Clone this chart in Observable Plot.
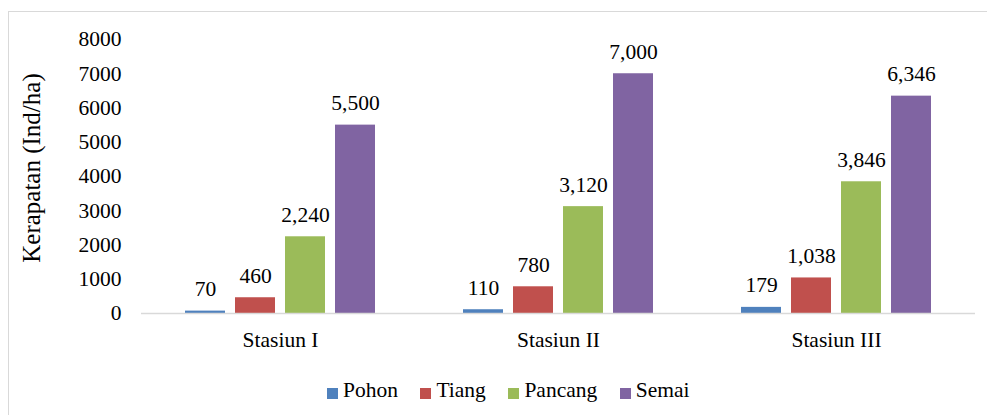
<!DOCTYPE html>
<html>
<head>
<meta charset="utf-8">
<script src="https://cdn.jsdelivr.net/npm/d3@7"></script>
<script src="https://cdn.jsdelivr.net/npm/@observablehq/plot@0.6"></script>
<style>
  html, body { margin: 0; padding: 0; background: #fff; overflow: hidden; width: 987px; height: 415px; }
  #frame { position: absolute; left: 8px; top: 11px; width: 1100px; height: 600px; border: 1px solid #d9d9d9; box-sizing: border-box; }
  #chart { position: absolute; left: 0; top: 0; }
  #chart svg, #chart svg text { font-family: "Liberation Serif", "Times New Roman", Times, "DejaVu Serif", serif !important; }
  #ytitle { position: absolute; left: 31px; top: 168px; transform: translate(-50%, -50%) rotate(-90deg); white-space: nowrap; font-family: "Liberation Serif", "Times New Roman", Times, "DejaVu Serif", serif; font-size: 25px; color: #000; line-height: 1; }
  #legend { position: absolute; left: 327px; top: 378px; display: flex; align-items: center; font-family: "Liberation Serif", "Times New Roman", Times, "DejaVu Serif", serif; font-size: 21.5px; color: #000; }
  .item { display: flex; align-items: center; margin-right: 22.5px; }
  .sw { width: 11px; height: 11px; margin-right: 5px; margin-top: 5px; }
</style>
</head>
<body>
<div id="frame"></div>
<div id="chart"></div>
<div id="ytitle"></div>
<div id="legend"></div>
<script>
const stations = ["Stasiun I", "Stasiun II", "Stasiun III"];
const series = ["Pohon", "Tiang", "Pancang", "Semai"];
const colors = ["#4f81bd", "#c0504d", "#9bbb59", "#8064a2"];
const pohon = [70, 110, 179];
const tiang = [460, 780, 1038];
const pancang = [2240, 3120, 3846];
const semai = [5500, 7000, 6346];
const yTicks = [0, 1000, 2000, 3000, 4000, 5000, 6000, 7000, 8000];
const yTitle = "Kerapatan (Ind/ha)";

const valuesBySeries = [pohon, tiang, pancang, semai];
const data = [];
stations.forEach((st, i) => {
  series.forEach((s, j) => data.push({station: st, series: s, value: valuesBySeries[j][i]}));
});

const fmt = d3.format(",");

const chart = Plot.plot({
  width: 987,
  height: 360,
  marginLeft: 140,
  marginRight: 11,
  marginTop: 39,
  marginBottom: 47,
  style: {fontFamily: "'Liberation Serif', 'Times New Roman', serif", fontSize: "21.5px", color: "#000", background: "transparent", overflow: "visible"},
  fx: {domain: stations, padding: 0, label: null, tickSize: 0, tickPadding: 18, axis: "bottom"},
  x: {domain: series, paddingInner: 0.208, paddingOuter: 0.865, axis: null},
  y: {domain: [0, 8000], ticks: yTicks, tickSize: 0, tickPadding: 20, label: null, tickFormat: d => String(d)},
  color: {domain: series, range: colors},
  marks: [
    Plot.barY(data, {fx: "station", x: "series", y: "value", fill: "series"}),
    Plot.ruleY([0], {stroke: "#d9d9d9", strokeWidth: 1.5}),
    Plot.text(data, {fx: "station", x: "series", y: "value", text: d => fmt(d.value), lineAnchor: "bottom", dy: -15, fill: "#000"})
  ]
});
document.getElementById("chart").appendChild(chart);
document.getElementById("ytitle").textContent = yTitle;

const legend = document.getElementById("legend");
series.forEach((s, i) => {
  const item = document.createElement("div");
  item.className = "item";
  const sw = document.createElement("span");
  sw.className = "sw";
  sw.style.background = colors[i];
  const t = document.createElement("span");
  t.textContent = s;
  item.appendChild(sw);
  item.appendChild(t);
  legend.appendChild(item);
});
</script>
</body>
</html>
